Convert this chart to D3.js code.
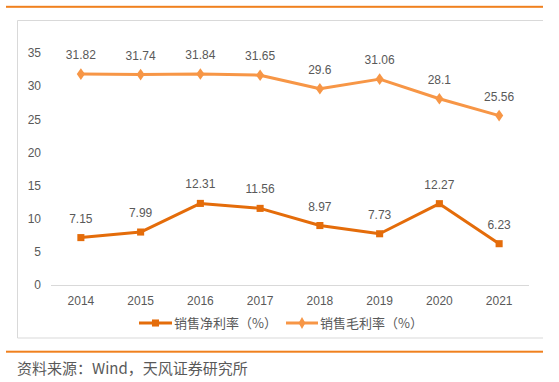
<!DOCTYPE html>
<html><head><meta charset="utf-8">
<script src="https://cdn.jsdelivr.net/npm/d3@7"></script>
<style>body{margin:0;background:#fff}svg{display:block}</style>
</head><body>
<svg id="c" width="559" height="382"></svg>
<script>
const years = ["2014","2015","2016","2017","2018","2019","2020","2021"];
const netMargin = [7.15,7.99,12.31,11.56,8.97,7.73,12.27,6.23];
const grossMargin = [31.82,31.74,31.84,31.65,29.6,31.06,28.1,25.56];
const yTicks = [0,5,10,15,20,25,30,35];
const seriesNames = ["销售净利率（%）","销售毛利率（%）"];
const sourceText = "资料来源：Wind，天风证券研究所";

const svg = d3.select("#c");
const orange = "#F0801E";
const netColor = "#E46C0A";
const grossColor = "#F79646";
const textColor = "#595959";
const numFont = "'Liberation Sans', Arial, sans-serif";
const cjkFont = "'Noto Sans CJK SC', sans-serif";

// header/footer rules
svg.append("rect").attr("x",6).attr("y",5.8).attr("width",537).attr("height",2).attr("fill",orange);
svg.append("rect").attr("x",6).attr("y",350.7).attr("width",537).attr("height",2).attr("fill",orange);
// chart frame
const frame = svg.append("g").attr("stroke","#d9d9d9").attr("stroke-width",1).attr("fill","none");
frame.append("path").attr("d","M543,20.5H17.5V338H543");

const x = d3.scaleBand().domain(years).range([51,529]).padding(0);
const y = d3.scaleLinear().domain([0,35]).range([285,53]);
const cx = d => x(d) + x.bandwidth()/2;

// y axis labels
const ya = svg.append("g").attr("transform","translate(41,0)")
  .call(d3.axisLeft(y).tickValues(yTicks).tickSize(0).tickPadding(0));
ya.select(".domain").remove();
ya.selectAll("text").attr("fill",textColor).style("font-family",numFont).style("font-size","12px");

// x axis
const xa = svg.append("g").attr("transform","translate(0,285)")
  .call(d3.axisBottom(x).tickSize(0).tickPadding(11));
xa.select(".domain").attr("stroke","#d9d9d9").attr("d","M51,0.5H529");
xa.selectAll("text").attr("fill",textColor).style("font-family",numFont).style("font-size","12px");

const line = d3.line().x((d,i)=>cx(years[i])).y(d=>y(d));

function drawSeries(vals, color, shape){
  svg.append("path").datum(vals).attr("d",line).attr("fill","none")
    .attr("stroke",color).attr("stroke-width",3).attr("stroke-linejoin","round");
  const sym = d3.symbol().type(shape).size(shape===d3.symbolSquare?50:48);
  svg.selectAll(null).data(vals).enter().append("path")
    .attr("d",sym)
    .attr("transform",(d,i)=>`translate(${cx(years[i])},${y(d)})${shape===d3.symbolDiamond?" scale(1.1,0.9)":""}`)
    .attr("fill",color);
  svg.selectAll(null).data(vals).enter().append("text")
    .attr("x",(d,i)=>cx(years[i])).attr("y",d=>y(d)-15)
    .attr("text-anchor","middle").attr("fill",textColor)
    .style("font-family",numFont).style("font-size","12px")
    .text(d=>d);
}
drawSeries(grossMargin, grossColor, d3.symbolDiamond);
drawSeries(netMargin, netColor, d3.symbolSquare);

// legend
const legend = [{name:seriesNames[0],color:netColor,shape:d3.symbolSquare,x0:139,x1:172},
                {name:seriesNames[1],color:grossColor,shape:d3.symbolDiamond,x0:286,x1:318}];
const lg = svg.append("g");
legend.forEach(l=>{
  lg.append("line").attr("x1",l.x0).attr("x2",l.x1).attr("y1",323).attr("y2",323)
    .attr("stroke",l.color).attr("stroke-width",3);
  lg.append("path").attr("d",d3.symbol().type(l.shape).size(l.shape===d3.symbolSquare?50:40)())
    .attr("transform",`translate(${(l.x0+l.x1)/2},323)`).attr("fill",l.color);
  lg.append("text").attr("x",l.x1+2).attr("y",327.5).attr("fill",textColor)
    .style("font-family",cjkFont).style("font-size","13px").text(l.name);
});

// source
svg.append("text").attr("x",17).attr("y",373.5).attr("fill","#595959")
  .style("font-family",cjkFont).style("font-size","15px").text(sourceText);
</script>
</body></html>
